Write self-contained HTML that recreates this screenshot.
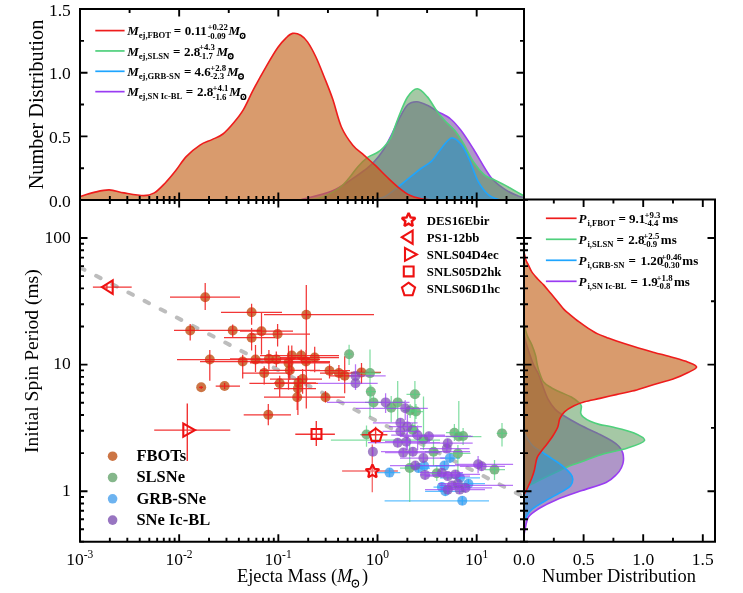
<!DOCTYPE html><html><head><meta charset="utf-8"><style>html,body{margin:0;padding:0;background:#fff;overflow:hidden}svg{display:block}#w{will-change:transform;width:743px;height:593px}</style></head><body><div id="w"><svg width="743" height="593" viewBox="0 0 743 593">
<defs><clipPath id="ctop"><rect x="80" y="9.1" width="444" height="190.9"/></clipPath><clipPath id="cmain"><rect x="80" y="200" width="444" height="341.8"/></clipPath><clipPath id="cright"><rect x="524" y="199.6" width="191" height="342.2"/></clipPath></defs>
<rect width="743" height="593" fill="#fff"/>
<g clip-path="url(#ctop)"><path d="M300.00,200.00 C305.43,198.45 324.00,194.15 332.60,190.70 C341.20,187.25 346.33,182.67 351.60,179.30 C356.87,175.93 360.62,173.23 364.20,170.50 C367.78,167.77 369.93,166.28 373.10,162.90 C376.27,159.52 380.05,155.05 383.20,150.20 C386.35,145.35 389.20,139.33 392.00,133.80 C394.80,128.27 397.33,121.88 400.00,117.00 C402.67,112.12 405.18,107.05 408.00,104.50 C410.82,101.95 413.67,101.57 416.90,101.70 C420.13,101.83 423.90,103.65 427.40,105.30 C430.90,106.95 434.03,109.32 437.90,111.60 C441.77,113.88 446.73,115.83 450.60,119.00 C454.47,122.17 457.25,125.52 461.10,130.60 C464.95,135.68 468.78,141.78 473.70,149.50 C478.62,157.22 485.32,170.22 490.60,176.90 C495.88,183.58 500.83,186.43 505.40,189.60 C509.97,192.77 514.90,194.58 518.00,195.90 C521.10,197.22 523.00,197.23 524.00,197.50 L524.00,200 L300.00,200 Z" fill="#845daa" fill-opacity="0.65" stroke="none"/><path d="M300.00,200.00 C305.43,198.45 324.00,194.15 332.60,190.70 C341.20,187.25 346.33,182.67 351.60,179.30 C356.87,175.93 360.62,173.23 364.20,170.50 C367.78,167.77 369.93,166.28 373.10,162.90 C376.27,159.52 380.05,155.05 383.20,150.20 C386.35,145.35 389.20,139.33 392.00,133.80 C394.80,128.27 397.33,121.88 400.00,117.00 C402.67,112.12 405.18,107.05 408.00,104.50 C410.82,101.95 413.67,101.57 416.90,101.70 C420.13,101.83 423.90,103.65 427.40,105.30 C430.90,106.95 434.03,109.32 437.90,111.60 C441.77,113.88 446.73,115.83 450.60,119.00 C454.47,122.17 457.25,125.52 461.10,130.60 C464.95,135.68 468.78,141.78 473.70,149.50 C478.62,157.22 485.32,170.22 490.60,176.90 C495.88,183.58 500.83,186.43 505.40,189.60 C509.97,192.77 514.90,194.58 518.00,195.90 C521.10,197.22 523.00,197.23 524.00,197.50" fill="none" stroke="#9a3cf2" stroke-width="1.6" stroke-linejoin="round"/><path d="M300.00,200.00 C303.33,199.67 313.50,199.97 320.00,198.00 C326.50,196.03 334.15,191.53 339.00,188.20 C343.85,184.87 345.95,181.58 349.10,178.00 C352.25,174.42 354.75,170.17 357.90,166.70 C361.05,163.23 364.83,159.52 368.00,157.20 C371.17,154.88 374.37,154.38 376.90,152.80 C379.43,151.22 380.88,150.23 383.20,147.70 C385.52,145.17 388.28,142.58 390.80,137.60 C393.32,132.62 395.53,124.52 398.30,117.80 C401.07,111.08 404.23,102.13 407.40,97.30 C410.57,92.47 413.97,88.87 417.30,88.80 C420.63,88.73 424.32,93.45 427.40,96.90 C430.48,100.35 433.00,105.65 435.80,109.50 C438.60,113.35 441.03,116.48 444.20,120.00 C447.37,123.52 451.63,126.73 454.80,130.60 C457.97,134.47 460.05,137.93 463.20,143.20 C466.35,148.47 470.18,156.93 473.70,162.20 C477.22,167.47 481.13,172.00 484.30,174.80 C487.47,177.60 489.18,177.23 492.70,179.00 C496.22,180.77 500.18,182.57 505.40,185.40 C510.62,188.23 520.90,194.23 524.00,196.00 L524.00,200 L300.00,200 Z" fill="#5b9b5b" fill-opacity="0.55" stroke="none"/><path d="M300.00,200.00 C303.33,199.67 313.50,199.97 320.00,198.00 C326.50,196.03 334.15,191.53 339.00,188.20 C343.85,184.87 345.95,181.58 349.10,178.00 C352.25,174.42 354.75,170.17 357.90,166.70 C361.05,163.23 364.83,159.52 368.00,157.20 C371.17,154.88 374.37,154.38 376.90,152.80 C379.43,151.22 380.88,150.23 383.20,147.70 C385.52,145.17 388.28,142.58 390.80,137.60 C393.32,132.62 395.53,124.52 398.30,117.80 C401.07,111.08 404.23,102.13 407.40,97.30 C410.57,92.47 413.97,88.87 417.30,88.80 C420.63,88.73 424.32,93.45 427.40,96.90 C430.48,100.35 433.00,105.65 435.80,109.50 C438.60,113.35 441.03,116.48 444.20,120.00 C447.37,123.52 451.63,126.73 454.80,130.60 C457.97,134.47 460.05,137.93 463.20,143.20 C466.35,148.47 470.18,156.93 473.70,162.20 C477.22,167.47 481.13,172.00 484.30,174.80 C487.47,177.60 489.18,177.23 492.70,179.00 C496.22,180.77 500.18,182.57 505.40,185.40 C510.62,188.23 520.90,194.23 524.00,196.00" fill="none" stroke="#4fd07c" stroke-width="1.6" stroke-linejoin="round"/><path d="M370.00,200.00 C372.33,199.50 379.00,199.42 384.00,197.00 C389.00,194.58 395.58,188.85 400.00,185.50 C404.42,182.15 407.00,179.73 410.50,176.90 C414.00,174.07 417.48,171.13 421.00,168.50 C424.52,165.87 428.08,164.62 431.60,161.10 C435.12,157.58 438.77,151.25 442.10,147.40 C445.43,143.55 448.43,138.52 451.60,138.00 C454.77,137.48 458.12,140.63 461.10,144.30 C464.08,147.97 466.68,153.87 469.50,160.00 C472.32,166.13 474.83,175.30 478.00,181.10 C481.17,186.90 484.83,191.65 488.50,194.80 C492.17,197.95 498.08,199.13 500.00,200.00 L500.00,200 L370.00,200 Z" fill="#3a91ca" fill-opacity="0.65" stroke="none"/><path d="M370.00,200.00 C372.33,199.50 379.00,199.42 384.00,197.00 C389.00,194.58 395.58,188.85 400.00,185.50 C404.42,182.15 407.00,179.73 410.50,176.90 C414.00,174.07 417.48,171.13 421.00,168.50 C424.52,165.87 428.08,164.62 431.60,161.10 C435.12,157.58 438.77,151.25 442.10,147.40 C445.43,143.55 448.43,138.52 451.60,138.00 C454.77,137.48 458.12,140.63 461.10,144.30 C464.08,147.97 466.68,153.87 469.50,160.00 C472.32,166.13 474.83,175.30 478.00,181.10 C481.17,186.90 484.83,191.65 488.50,194.80 C492.17,197.95 498.08,199.13 500.00,200.00" fill="none" stroke="#1ea5ff" stroke-width="1.6" stroke-linejoin="round"/><path d="M80.00,196.50 C82.33,195.82 89.13,193.50 94.00,192.40 C98.87,191.30 104.20,189.82 109.20,189.90 C114.20,189.98 118.25,191.95 124.00,192.90 C129.75,193.85 138.65,195.60 143.70,195.60 C148.75,195.60 150.75,194.97 154.30,192.90 C157.85,190.83 161.45,186.88 165.00,183.20 C168.55,179.52 172.07,175.23 175.60,170.80 C179.13,166.37 182.13,160.88 186.20,156.60 C190.27,152.32 195.70,147.93 200.00,145.10 C204.30,142.27 208.18,141.45 212.00,139.60 C215.82,137.75 219.25,136.85 222.90,134.00 C226.55,131.15 230.48,126.57 233.90,122.50 C237.32,118.43 240.13,115.12 243.40,109.60 C246.67,104.08 249.57,96.82 253.50,89.40 C257.43,81.98 262.95,72.08 267.00,65.10 C271.05,58.12 274.65,52.00 277.80,47.50 C280.95,43.00 283.43,40.45 285.90,38.10 C288.37,35.75 290.13,33.88 292.60,33.40 C295.07,32.92 298.22,33.78 300.70,35.20 C303.18,36.62 304.97,38.27 307.50,41.90 C310.03,45.53 313.10,51.12 315.90,57.00 C318.70,62.88 321.50,70.18 324.30,77.20 C327.10,84.22 329.85,90.80 332.70,99.10 C335.55,107.40 338.05,119.32 341.40,127.00 C344.75,134.68 349.00,140.47 352.80,145.20 C356.60,149.93 360.40,151.98 364.20,155.40 C368.00,158.82 371.80,162.10 375.60,165.70 C379.40,169.30 383.22,173.40 387.00,177.00 C390.78,180.60 394.52,184.25 398.30,187.30 C402.08,190.35 405.92,193.40 409.70,195.30 C413.48,197.20 417.28,197.92 421.00,198.70 C424.72,199.48 430.17,199.78 432.00,200.00 L432.00,200 L80.00,200 Z" fill="#c4651f" fill-opacity="0.65" stroke="none"/><path d="M80.00,196.50 C82.33,195.82 89.13,193.50 94.00,192.40 C98.87,191.30 104.20,189.82 109.20,189.90 C114.20,189.98 118.25,191.95 124.00,192.90 C129.75,193.85 138.65,195.60 143.70,195.60 C148.75,195.60 150.75,194.97 154.30,192.90 C157.85,190.83 161.45,186.88 165.00,183.20 C168.55,179.52 172.07,175.23 175.60,170.80 C179.13,166.37 182.13,160.88 186.20,156.60 C190.27,152.32 195.70,147.93 200.00,145.10 C204.30,142.27 208.18,141.45 212.00,139.60 C215.82,137.75 219.25,136.85 222.90,134.00 C226.55,131.15 230.48,126.57 233.90,122.50 C237.32,118.43 240.13,115.12 243.40,109.60 C246.67,104.08 249.57,96.82 253.50,89.40 C257.43,81.98 262.95,72.08 267.00,65.10 C271.05,58.12 274.65,52.00 277.80,47.50 C280.95,43.00 283.43,40.45 285.90,38.10 C288.37,35.75 290.13,33.88 292.60,33.40 C295.07,32.92 298.22,33.78 300.70,35.20 C303.18,36.62 304.97,38.27 307.50,41.90 C310.03,45.53 313.10,51.12 315.90,57.00 C318.70,62.88 321.50,70.18 324.30,77.20 C327.10,84.22 329.85,90.80 332.70,99.10 C335.55,107.40 338.05,119.32 341.40,127.00 C344.75,134.68 349.00,140.47 352.80,145.20 C356.60,149.93 360.40,151.98 364.20,155.40 C368.00,158.82 371.80,162.10 375.60,165.70 C379.40,169.30 383.22,173.40 387.00,177.00 C390.78,180.60 394.52,184.25 398.30,187.30 C402.08,190.35 405.92,193.40 409.70,195.30 C413.48,197.20 417.28,197.92 421.00,198.70 C424.72,199.48 430.17,199.78 432.00,200.00" fill="none" stroke="#ee1c1c" stroke-width="1.6" stroke-linejoin="round"/></g>
<g clip-path="url(#cright)"><path d="M524.00,334.00 C524.20,335.00 524.28,336.72 525.20,340.00 C526.12,343.28 528.03,349.38 529.50,353.70 C530.97,358.02 532.50,362.52 534.00,365.90 C535.50,369.28 537.12,370.85 538.50,374.00 C539.88,377.15 540.67,380.52 542.30,384.80 C543.93,389.08 546.18,395.65 548.30,399.70 C550.42,403.75 552.75,406.63 555.00,409.10 C557.25,411.57 557.63,411.85 561.80,414.50 C565.97,417.15 573.63,421.67 580.00,425.00 C586.37,428.33 594.67,431.83 600.00,434.50 C605.33,437.17 608.83,439.00 612.00,441.00 C615.17,443.00 617.20,444.50 619.00,446.50 C620.80,448.50 622.07,450.58 622.80,453.00 C623.53,455.42 623.62,458.58 623.40,461.00 C623.18,463.42 622.57,465.33 621.50,467.50 C620.43,469.67 619.57,471.52 617.00,474.00 C614.43,476.48 612.22,479.55 606.10,482.40 C599.98,485.25 588.55,488.22 580.30,491.10 C572.05,493.98 563.42,496.83 556.60,499.70 C549.78,502.57 544.07,505.43 539.40,508.30 C534.73,511.17 530.93,513.67 528.60,516.90 C526.27,520.13 526.17,524.68 525.40,527.70 C524.63,530.72 524.23,533.78 524.00,535.00 L524,535.00 L524,334.00 Z" fill="#845daa" fill-opacity="0.65" stroke="none"/><path d="M524.00,334.00 C524.20,335.00 524.28,336.72 525.20,340.00 C526.12,343.28 528.03,349.38 529.50,353.70 C530.97,358.02 532.50,362.52 534.00,365.90 C535.50,369.28 537.12,370.85 538.50,374.00 C539.88,377.15 540.67,380.52 542.30,384.80 C543.93,389.08 546.18,395.65 548.30,399.70 C550.42,403.75 552.75,406.63 555.00,409.10 C557.25,411.57 557.63,411.85 561.80,414.50 C565.97,417.15 573.63,421.67 580.00,425.00 C586.37,428.33 594.67,431.83 600.00,434.50 C605.33,437.17 608.83,439.00 612.00,441.00 C615.17,443.00 617.20,444.50 619.00,446.50 C620.80,448.50 622.07,450.58 622.80,453.00 C623.53,455.42 623.62,458.58 623.40,461.00 C623.18,463.42 622.57,465.33 621.50,467.50 C620.43,469.67 619.57,471.52 617.00,474.00 C614.43,476.48 612.22,479.55 606.10,482.40 C599.98,485.25 588.55,488.22 580.30,491.10 C572.05,493.98 563.42,496.83 556.60,499.70 C549.78,502.57 544.07,505.43 539.40,508.30 C534.73,511.17 530.93,513.67 528.60,516.90 C526.27,520.13 526.17,524.68 525.40,527.70 C524.63,530.72 524.23,533.78 524.00,535.00" fill="none" stroke="#9a3cf2" stroke-width="1.6" stroke-linejoin="round"/><path d="M524.00,324.00 C524.53,325.92 525.92,332.07 527.20,335.50 C528.48,338.93 530.32,341.30 531.70,344.60 C533.08,347.90 534.58,352.00 535.50,355.30 C536.42,358.60 536.57,361.62 537.20,364.40 C537.83,367.18 538.23,369.05 539.30,372.00 C540.37,374.95 541.65,379.52 543.60,382.10 C545.55,384.68 548.18,385.80 551.00,387.50 C553.82,389.20 557.12,390.72 560.50,392.30 C563.88,393.88 568.15,395.22 571.30,397.00 C574.45,398.78 577.72,401.43 579.40,403.00 C581.08,404.57 581.18,404.70 581.40,406.40 C581.62,408.10 580.37,411.40 580.70,413.20 C581.03,415.00 581.82,415.85 583.40,417.20 C584.98,418.55 587.43,420.07 590.20,421.30 C592.97,422.53 596.27,423.65 600.00,424.60 C603.73,425.55 606.93,425.60 612.60,427.00 C618.27,428.40 628.68,430.75 634.00,433.00 C639.32,435.25 645.55,438.00 644.50,440.50 C643.45,443.00 634.82,445.67 627.70,448.00 C620.58,450.33 610.07,452.00 601.80,454.50 C593.53,457.00 584.02,460.85 578.10,463.00 C572.18,465.15 571.32,465.23 566.30,467.40 C561.28,469.57 553.92,473.13 548.00,476.00 C542.08,478.87 534.80,482.43 530.80,484.60 C526.80,486.77 525.13,488.27 524.00,489.00 L524,489.00 L524,324.00 Z" fill="#5b9b5b" fill-opacity="0.55" stroke="none"/><path d="M524.00,324.00 C524.53,325.92 525.92,332.07 527.20,335.50 C528.48,338.93 530.32,341.30 531.70,344.60 C533.08,347.90 534.58,352.00 535.50,355.30 C536.42,358.60 536.57,361.62 537.20,364.40 C537.83,367.18 538.23,369.05 539.30,372.00 C540.37,374.95 541.65,379.52 543.60,382.10 C545.55,384.68 548.18,385.80 551.00,387.50 C553.82,389.20 557.12,390.72 560.50,392.30 C563.88,393.88 568.15,395.22 571.30,397.00 C574.45,398.78 577.72,401.43 579.40,403.00 C581.08,404.57 581.18,404.70 581.40,406.40 C581.62,408.10 580.37,411.40 580.70,413.20 C581.03,415.00 581.82,415.85 583.40,417.20 C584.98,418.55 587.43,420.07 590.20,421.30 C592.97,422.53 596.27,423.65 600.00,424.60 C603.73,425.55 606.93,425.60 612.60,427.00 C618.27,428.40 628.68,430.75 634.00,433.00 C639.32,435.25 645.55,438.00 644.50,440.50 C643.45,443.00 634.82,445.67 627.70,448.00 C620.58,450.33 610.07,452.00 601.80,454.50 C593.53,457.00 584.02,460.85 578.10,463.00 C572.18,465.15 571.32,465.23 566.30,467.40 C561.28,469.57 553.92,473.13 548.00,476.00 C542.08,478.87 534.80,482.43 530.80,484.60 C526.80,486.77 525.13,488.27 524.00,489.00" fill="none" stroke="#4fd07c" stroke-width="1.6" stroke-linejoin="round"/><path d="M524.00,432.00 C524.50,433.00 525.50,435.67 527.00,438.00 C528.50,440.33 530.72,443.80 533.00,446.00 C535.28,448.20 537.48,449.07 540.70,451.20 C543.92,453.33 548.58,456.28 552.30,458.80 C556.02,461.32 559.95,463.80 563.00,466.30 C566.05,468.80 568.97,471.65 570.60,473.80 C572.23,475.95 572.80,477.22 572.80,479.20 C572.80,481.18 572.23,483.73 570.60,485.70 C568.97,487.67 567.48,488.32 563.00,491.00 C558.52,493.68 549.07,498.57 543.70,501.80 C538.33,505.03 534.08,507.20 530.80,510.40 C527.52,513.60 525.13,519.23 524.00,521.00 L524,521.00 L524,432.00 Z" fill="#3a91ca" fill-opacity="0.65" stroke="none"/><path d="M524.00,432.00 C524.50,433.00 525.50,435.67 527.00,438.00 C528.50,440.33 530.72,443.80 533.00,446.00 C535.28,448.20 537.48,449.07 540.70,451.20 C543.92,453.33 548.58,456.28 552.30,458.80 C556.02,461.32 559.95,463.80 563.00,466.30 C566.05,468.80 568.97,471.65 570.60,473.80 C572.23,475.95 572.80,477.22 572.80,479.20 C572.80,481.18 572.23,483.73 570.60,485.70 C568.97,487.67 567.48,488.32 563.00,491.00 C558.52,493.68 549.07,498.57 543.70,501.80 C538.33,505.03 534.08,507.20 530.80,510.40 C527.52,513.60 525.13,519.23 524.00,521.00" fill="none" stroke="#1ea5ff" stroke-width="1.6" stroke-linejoin="round"/><path d="M524.00,251.80 C524.32,253.18 525.18,257.93 525.90,260.10 C526.62,262.27 527.32,262.83 528.30,264.80 C529.28,266.77 530.23,269.53 531.80,271.90 C533.37,274.27 535.73,276.83 537.70,279.00 C539.67,281.17 541.63,282.75 543.60,284.90 C545.57,287.05 547.53,289.55 549.50,291.90 C551.47,294.25 553.03,296.13 555.40,299.00 C557.77,301.87 561.37,306.58 563.70,309.10 C566.03,311.62 566.88,312.00 569.40,314.10 C571.92,316.20 575.65,319.33 578.80,321.70 C581.95,324.07 585.15,326.27 588.30,328.30 C591.45,330.33 594.57,332.33 597.70,333.90 C600.83,335.47 603.97,336.50 607.10,337.70 C610.23,338.90 611.78,339.53 616.50,341.10 C621.22,342.67 629.12,345.22 635.40,347.10 C641.68,348.98 647.92,350.67 654.20,352.40 C660.48,354.13 667.45,355.87 673.10,357.50 C678.75,359.13 684.18,360.63 688.10,362.20 C692.02,363.77 696.60,365.18 696.60,366.90 C696.60,368.62 692.02,370.47 688.10,372.50 C684.18,374.53 677.02,377.62 673.10,379.10 C669.18,380.58 668.70,380.22 664.60,381.40 C660.50,382.58 653.88,384.58 648.50,386.20 C643.12,387.82 637.68,389.70 632.30,391.10 C626.92,392.50 621.58,393.38 616.20,394.60 C610.82,395.82 605.25,397.22 600.00,398.40 C594.75,399.58 589.03,400.48 584.70,401.70 C580.37,402.92 577.37,404.02 574.00,405.70 C570.63,407.38 566.87,409.65 564.50,411.80 C562.13,413.95 560.92,416.07 559.80,418.60 C558.68,421.13 558.97,424.10 557.80,427.00 C556.63,429.90 554.60,433.17 552.80,436.00 C551.00,438.83 548.88,441.50 547.00,444.00 C545.12,446.50 543.17,448.68 541.50,451.00 C539.83,453.32 538.18,454.73 537.00,457.90 C535.82,461.07 535.27,466.65 534.40,470.00 C533.53,473.35 532.95,475.00 531.80,478.00 C530.65,481.00 528.80,485.17 527.50,488.00 C526.20,490.83 524.58,493.83 524.00,495.00 L524,495.00 L524,251.80 Z" fill="#c4651f" fill-opacity="0.65" stroke="none"/><path d="M524.00,251.80 C524.32,253.18 525.18,257.93 525.90,260.10 C526.62,262.27 527.32,262.83 528.30,264.80 C529.28,266.77 530.23,269.53 531.80,271.90 C533.37,274.27 535.73,276.83 537.70,279.00 C539.67,281.17 541.63,282.75 543.60,284.90 C545.57,287.05 547.53,289.55 549.50,291.90 C551.47,294.25 553.03,296.13 555.40,299.00 C557.77,301.87 561.37,306.58 563.70,309.10 C566.03,311.62 566.88,312.00 569.40,314.10 C571.92,316.20 575.65,319.33 578.80,321.70 C581.95,324.07 585.15,326.27 588.30,328.30 C591.45,330.33 594.57,332.33 597.70,333.90 C600.83,335.47 603.97,336.50 607.10,337.70 C610.23,338.90 611.78,339.53 616.50,341.10 C621.22,342.67 629.12,345.22 635.40,347.10 C641.68,348.98 647.92,350.67 654.20,352.40 C660.48,354.13 667.45,355.87 673.10,357.50 C678.75,359.13 684.18,360.63 688.10,362.20 C692.02,363.77 696.60,365.18 696.60,366.90 C696.60,368.62 692.02,370.47 688.10,372.50 C684.18,374.53 677.02,377.62 673.10,379.10 C669.18,380.58 668.70,380.22 664.60,381.40 C660.50,382.58 653.88,384.58 648.50,386.20 C643.12,387.82 637.68,389.70 632.30,391.10 C626.92,392.50 621.58,393.38 616.20,394.60 C610.82,395.82 605.25,397.22 600.00,398.40 C594.75,399.58 589.03,400.48 584.70,401.70 C580.37,402.92 577.37,404.02 574.00,405.70 C570.63,407.38 566.87,409.65 564.50,411.80 C562.13,413.95 560.92,416.07 559.80,418.60 C558.68,421.13 558.97,424.10 557.80,427.00 C556.63,429.90 554.60,433.17 552.80,436.00 C551.00,438.83 548.88,441.50 547.00,444.00 C545.12,446.50 543.17,448.68 541.50,451.00 C539.83,453.32 538.18,454.73 537.00,457.90 C535.82,461.07 535.27,466.65 534.40,470.00 C533.53,473.35 532.95,475.00 531.80,478.00 C530.65,481.00 528.80,485.17 527.50,488.00 C526.20,490.83 524.58,493.83 524.00,495.00" fill="none" stroke="#ee1c1c" stroke-width="1.6" stroke-linejoin="round"/></g>
<g clip-path="url(#cmain)"><path d="M80,267.5 L524,497" stroke="#bdbdbd" stroke-width="4" stroke-linecap="round" stroke-dasharray="5 13.17" stroke-dashoffset="0" fill="none"/><path d="M92.9,287.1H131.7M106.9,285.0V289.0" stroke="#ee1111" stroke-opacity="0.85" stroke-width="1.4" fill="none"/><path d="M154.2,430.1H230.3M187.3,403.5V461.0" stroke="#ee1111" stroke-opacity="0.85" stroke-width="1.4" fill="none"/><path d="M295.3,434.2H334.9M316.3,421.0V446.0" stroke="#ee1111" stroke-opacity="0.85" stroke-width="1.4" fill="none"/><path d="M342.1,471.0H397.9M372.3,444.4V492.3" stroke="#ee1111" stroke-opacity="0.60" stroke-width="1.4" fill="none"/><circle cx="205.2" cy="297.2" r="5" fill="#bf5317" fill-opacity="0.80"/><circle cx="251.6" cy="312.3" r="5" fill="#bf5317" fill-opacity="0.80"/><circle cx="190.2" cy="330.4" r="5" fill="#bf5317" fill-opacity="0.80"/><circle cx="232.7" cy="330.4" r="5" fill="#bf5317" fill-opacity="0.80"/><circle cx="251.6" cy="337.7" r="5" fill="#bf5317" fill-opacity="0.80"/><circle cx="261.5" cy="331.2" r="5" fill="#bf5317" fill-opacity="0.80"/><circle cx="277.6" cy="334.0" r="5" fill="#bf5317" fill-opacity="0.80"/><circle cx="306.3" cy="314.7" r="5" fill="#bf5317" fill-opacity="0.80"/><circle cx="209.8" cy="359.5" r="5" fill="#bf5317" fill-opacity="0.80"/><circle cx="242.7" cy="361.5" r="5" fill="#bf5317" fill-opacity="0.80"/><circle cx="255.5" cy="359.5" r="5" fill="#bf5317" fill-opacity="0.80"/><circle cx="268.9" cy="358.8" r="5" fill="#bf5317" fill-opacity="0.80"/><circle cx="276.3" cy="359.5" r="5" fill="#bf5317" fill-opacity="0.80"/><circle cx="291.8" cy="355.5" r="5" fill="#bf5317" fill-opacity="0.80"/><circle cx="301.2" cy="355.5" r="5" fill="#bf5317" fill-opacity="0.80"/><circle cx="314.7" cy="357.5" r="5" fill="#bf5317" fill-opacity="0.80"/><circle cx="288.5" cy="362.9" r="5" fill="#bf5317" fill-opacity="0.80"/><circle cx="306.0" cy="361.5" r="5" fill="#bf5317" fill-opacity="0.80"/><circle cx="289.8" cy="370.3" r="5" fill="#bf5317" fill-opacity="0.80"/><circle cx="264.2" cy="373.0" r="5" fill="#bf5317" fill-opacity="0.80"/><circle cx="329.5" cy="370.7" r="5" fill="#bf5317" fill-opacity="0.80"/><circle cx="338.9" cy="373.0" r="5" fill="#bf5317" fill-opacity="0.80"/><circle cx="279.7" cy="383.3" r="5" fill="#bf5317" fill-opacity="0.80"/><circle cx="302.6" cy="379.0" r="5" fill="#bf5317" fill-opacity="0.80"/><circle cx="298.5" cy="382.8" r="5" fill="#bf5317" fill-opacity="0.80"/><circle cx="297.9" cy="388.5" r="5" fill="#bf5317" fill-opacity="0.80"/><circle cx="297.2" cy="397.2" r="5" fill="#bf5317" fill-opacity="0.80"/><circle cx="325.5" cy="397.2" r="5" fill="#bf5317" fill-opacity="0.80"/><circle cx="268.3" cy="414.8" r="5" fill="#bf5317" fill-opacity="0.80"/><circle cx="201.2" cy="387.3" r="5" fill="#bf5317" fill-opacity="0.80"/><circle cx="224.6" cy="386.0" r="5" fill="#bf5317" fill-opacity="0.80"/><circle cx="344.7" cy="375.8" r="5" fill="#bf5317" fill-opacity="0.80"/><circle cx="361.5" cy="372.4" r="5" fill="#bf5317" fill-opacity="0.80"/><path d="M170.0,297.2H240.0M205.2,283.0V310.0M221.0,312.3H282.0M251.6,303.7V324.7M174.0,330.4H250.0M190.2,324.0V340.6M222.0,330.4H262.0M232.7,324.4V338.2M224.0,337.7H275.0M251.6,328.0V350.6M240.0,331.2H293.0M261.5,312.6V354.6M250.0,334.0H310.0M277.6,324.0V346.5M264.0,314.7H374.0M306.3,285.0V408.6M177.0,359.5H260.0M209.8,350.0V380.8M200.0,361.5H290.0M242.7,354.8V378.4M215.0,359.5H300.0M255.5,345.0V372.0M230.0,358.8H310.0M268.9,350.0V369.6M240.0,359.5H320.0M276.3,351.4V367.0M260.0,355.5H330.0M291.8,345.4V373.6M270.0,355.5H339.0M301.2,349.4V362.9M280.0,357.5H339.0M314.7,346.7V372.3M250.0,362.9H330.0M288.5,345.4V389.8M270.0,361.5H330.0M306.0,350.0V372.0M260.0,370.3H320.0M289.8,360.0V380.0M242.0,373.0H288.0M264.2,366.2V384.4M310.0,370.7H350.0M329.5,364.2V378.4M320.0,373.0H360.0M338.9,365.0V381.0M249.4,383.3H318.0M279.7,375.7V397.2M270.0,379.0H322.0M302.6,369.0V393.8M274.0,382.8H316.0M298.5,376.0V400.0M274.0,388.5H316.0M297.9,376.3V415.0M264.0,397.2H334.0M297.2,385.0V410.0M310.0,397.2H345.0M325.5,391.1V402.6M243.7,414.8H291.0M268.3,404.0V425.3M199.0,387.3H203.0M201.2,386.0V389.0M215.7,386.0H240.0M224.6,383.0V389.0M330.0,375.8H360.0M344.7,356.2V393.3M350.8,372.4H381.0M361.5,363.0V383.8" stroke="#f01414" stroke-opacity="0.85" stroke-width="1.25" fill="none"/><circle cx="389.5" cy="472.6" r="5" fill="#48a0ec" fill-opacity="0.80"/><circle cx="449.9" cy="458.0" r="5" fill="#48a0ec" fill-opacity="0.80"/><circle cx="444.4" cy="465.6" r="5" fill="#48a0ec" fill-opacity="0.80"/><circle cx="424.2" cy="466.0" r="5" fill="#48a0ec" fill-opacity="0.80"/><circle cx="460.0" cy="477.8" r="5" fill="#48a0ec" fill-opacity="0.80"/><circle cx="468.4" cy="483.7" r="5" fill="#48a0ec" fill-opacity="0.80"/><circle cx="441.9" cy="487.1" r="5" fill="#48a0ec" fill-opacity="0.80"/><circle cx="445.3" cy="491.3" r="5" fill="#48a0ec" fill-opacity="0.80"/><circle cx="462.3" cy="500.8" r="5" fill="#48a0ec" fill-opacity="0.80"/><circle cx="418.5" cy="468.1" r="5" fill="#48a0ec" fill-opacity="0.80"/><path d="M376.8,472.6H400.3M389.5,468.1V477.1M440.2,458.0H460.0M449.9,453.5V462.5M435.0,465.6H455.0M444.4,461.1V470.1M405.0,466.0H445.0M424.2,461.5V470.5M440.0,477.8H480.0M460.0,473.3V482.3M455.0,483.7H485.0M468.4,479.2V488.2M433.5,487.1H470.0M441.9,482.6V491.6M425.1,491.3H465.0M445.3,486.8V495.8M384.6,500.8H489.0M462.3,496.3V505.0M405.0,468.1H430.0M418.5,463.6V472.6" stroke="#1ea5ff" stroke-opacity="0.70" stroke-width="1.25" fill="none"/><circle cx="349.1" cy="354.2" r="5" fill="#66a56e" fill-opacity="0.80"/><circle cx="370.0" cy="373.1" r="5" fill="#66a56e" fill-opacity="0.80"/><circle cx="370.8" cy="391.6" r="5" fill="#66a56e" fill-opacity="0.80"/><circle cx="373.5" cy="402.4" r="5" fill="#66a56e" fill-opacity="0.80"/><circle cx="391.2" cy="407.8" r="5" fill="#66a56e" fill-opacity="0.80"/><circle cx="397.7" cy="402.4" r="5" fill="#66a56e" fill-opacity="0.80"/><circle cx="410.1" cy="410.5" r="5" fill="#66a56e" fill-opacity="0.80"/><circle cx="414.9" cy="394.3" r="5" fill="#66a56e" fill-opacity="0.80"/><circle cx="416.0" cy="411.5" r="5" fill="#66a56e" fill-opacity="0.80"/><circle cx="412.7" cy="429.8" r="5" fill="#66a56e" fill-opacity="0.80"/><circle cx="423.5" cy="439.5" r="5" fill="#66a56e" fill-opacity="0.80"/><circle cx="366.5" cy="434.5" r="5" fill="#66a56e" fill-opacity="0.80"/><circle cx="454.4" cy="432.7" r="5" fill="#66a56e" fill-opacity="0.80"/><circle cx="458.8" cy="436.5" r="5" fill="#66a56e" fill-opacity="0.80"/><circle cx="463.1" cy="436.0" r="5" fill="#66a56e" fill-opacity="0.80"/><circle cx="502.0" cy="433.4" r="5" fill="#66a56e" fill-opacity="0.80"/><circle cx="494.5" cy="469.6" r="5" fill="#66a56e" fill-opacity="0.80"/><circle cx="409.7" cy="468.0" r="5" fill="#66a56e" fill-opacity="0.80"/><circle cx="433.5" cy="451.7" r="5" fill="#66a56e" fill-opacity="0.80"/><circle cx="457.9" cy="453.4" r="5" fill="#66a56e" fill-opacity="0.80"/><circle cx="436.8" cy="473.2" r="5" fill="#66a56e" fill-opacity="0.80"/><path d="M346.0,354.2H352.0M349.1,344.8V365.0M355.0,373.1H380.4M370.0,349.5V416.9M366.0,391.6H376.0M370.8,385.0V398.0M365.0,402.4H382.0M373.5,396.0V409.0M384.0,407.8H398.0M391.2,395.9V422.3M390.0,402.4H405.0M397.7,381.0V421.2M403.0,410.5H417.0M410.1,404.0V418.0M406.5,394.3H420.5M414.9,381.0V429.8M409.0,411.5H423.0M416.0,404.0V419.0M406.0,429.8H419.0M412.7,423.0V437.0M417.0,439.5H430.0M423.5,396.5V450.0M360.0,434.5H375.0M366.5,425.5V446.8M446.0,432.7H462.0M454.4,424.1V441.0M446.0,436.5H481.4M458.8,401.0V440.0M455.0,436.0H471.0M463.1,427.9V445.0M496.6,433.4H507.4M502.0,423.0V446.4M485.0,469.6H505.0M494.5,460.0V480.0M400.0,468.0H420.0M409.7,440.0V501.9M425.0,451.7H442.0M433.5,440.0V466.0M450.0,453.4H470.5M457.9,445.0V473.6M430.0,473.2H444.0M436.8,466.0V481.0M330.9,440H440" stroke="#4fd07c" stroke-opacity="0.70" stroke-width="1.25" fill="none"/><circle cx="355.5" cy="375.9" r="5" fill="#7e52b2" fill-opacity="0.72"/><circle cx="355.5" cy="383.3" r="5" fill="#7e52b2" fill-opacity="0.72"/><circle cx="385.6" cy="402.4" r="5" fill="#7e52b2" fill-opacity="0.72"/><circle cx="405.2" cy="408.3" r="5" fill="#7e52b2" fill-opacity="0.72"/><circle cx="400.4" cy="422.8" r="5" fill="#7e52b2" fill-opacity="0.72"/><circle cx="400.4" cy="431.4" r="5" fill="#7e52b2" fill-opacity="0.72"/><circle cx="407.4" cy="426.6" r="5" fill="#7e52b2" fill-opacity="0.72"/><circle cx="417.6" cy="435.2" r="5" fill="#7e52b2" fill-opacity="0.72"/><circle cx="428.9" cy="436.3" r="5" fill="#7e52b2" fill-opacity="0.72"/><circle cx="397.7" cy="442.7" r="5" fill="#7e52b2" fill-opacity="0.72"/><circle cx="406.3" cy="441.7" r="5" fill="#7e52b2" fill-opacity="0.72"/><circle cx="372.9" cy="451.7" r="5" fill="#7e52b2" fill-opacity="0.72"/><circle cx="447.7" cy="443.2" r="5" fill="#7e52b2" fill-opacity="0.72"/><circle cx="446.8" cy="448.6" r="5" fill="#7e52b2" fill-opacity="0.72"/><circle cx="403.2" cy="452.6" r="5" fill="#7e52b2" fill-opacity="0.72"/><circle cx="412.9" cy="451.8" r="5" fill="#7e52b2" fill-opacity="0.72"/><circle cx="423.4" cy="458.0" r="5" fill="#7e52b2" fill-opacity="0.72"/><circle cx="478.1" cy="464.3" r="5" fill="#7e52b2" fill-opacity="0.72"/><circle cx="481.6" cy="466.3" r="5" fill="#7e52b2" fill-opacity="0.72"/><circle cx="425.1" cy="474.9" r="5" fill="#7e52b2" fill-opacity="0.72"/><circle cx="441.9" cy="472.7" r="5" fill="#7e52b2" fill-opacity="0.72"/><circle cx="447.8" cy="476.1" r="5" fill="#7e52b2" fill-opacity="0.72"/><circle cx="455.4" cy="474.4" r="5" fill="#7e52b2" fill-opacity="0.72"/><circle cx="465.5" cy="487.9" r="5" fill="#7e52b2" fill-opacity="0.72"/><circle cx="457.9" cy="483.7" r="5" fill="#7e52b2" fill-opacity="0.72"/><circle cx="452.0" cy="485.4" r="5" fill="#7e52b2" fill-opacity="0.72"/><circle cx="447.8" cy="489.6" r="5" fill="#7e52b2" fill-opacity="0.72"/><circle cx="459.6" cy="489.6" r="5" fill="#7e52b2" fill-opacity="0.72"/><circle cx="415.3" cy="465.5" r="5" fill="#7e52b2" fill-opacity="0.72"/><path d="M349.0,375.9H385.7M355.5,364.2V389.9M318.0,383.3H377.7M355.5,378.8V387.8M327.0,402.4H409.5M385.6,393.2V413.1M355.8,408.3H427.8M405.2,400.2V420.1M372.9,422.8H417.6M400.4,418.3V427.3M382.6,431.4H420.3M400.4,426.9V435.9M389.0,426.6H421.9M407.4,414.8V450.0M391.2,435.2H445.0M417.6,425.5V450.0M400.0,436.3H472.7M428.9,431.8V440.8M368.0,442.7H440.0M397.7,438.2V447.2M385.0,441.7H430.0M406.3,432.5V450.0M381.0,451.7H470.0M372.9,447.2V456.0M410.0,443.2H472.7M447.7,438.7V447.7M420.0,448.6H469.5M446.8,444.1V453.1M385.0,452.6H440.0M403.2,448.1V457.1M400.0,451.8H440.0M412.9,447.3V456.3M400.0,458.0H445.0M423.4,453.5V462.5M455.0,464.3H513.1M478.1,455.9V473.2M460.0,466.3H505.0M481.6,461.8V470.8M420.0,474.9H463.8M425.1,470.4V479.4M420.0,472.7H463.0M441.9,468.2V477.2M425.0,476.1H470.0M447.8,471.6V480.6M435.0,474.4H480.0M455.4,469.9V478.9M440.0,487.9H492.1M465.5,483.4V492.4M438.5,483.7H460.4M457.9,479.2V488.2M439.4,485.4H513.0M452.0,480.9V489.9M425.0,489.6H470.0M447.8,485.1V494.1M440.0,489.6H485.0M459.6,485.1V494.1M390.0,465.5H480.0M415.3,461.0V470.0" stroke="#9a3cf2" stroke-opacity="0.70" stroke-width="1.25" fill="none"/><path d="M361.6,434.7H387.4M375.6,426.7V443.6" stroke="#ee1111" stroke-opacity="0.85" stroke-width="1.4" fill="none"/><path d="M101.90,287.10 L112.70,280.30 L112.70,293.90 Z" fill="none" stroke="#ee1111" stroke-width="2.1" stroke-linejoin="miter"/><path d="M195.10,430.10 L183.30,423.60 L183.30,436.60 Z" fill="none" stroke="#ee1111" stroke-width="2.1"/><path d="M311.55,429.00 h9.90 v9.90 h-9.90 Z" fill="none" stroke="#ee1111" stroke-width="2.1"/><path d="M375.75,428.50 L382.31,433.27 L379.81,440.98 L371.69,440.98 L369.19,433.27 Z" fill="none" stroke="#ee1111" stroke-width="2.1" stroke-linejoin="miter"/><path d="M372.45,464.40 L374.45,468.75 L379.20,469.31 L375.68,472.55 L376.62,477.24 L372.45,474.90 L368.28,477.24 L369.22,472.55 L365.70,469.31 L370.45,468.75 Z" fill="none" stroke="#ee1111" stroke-width="2.2" stroke-linejoin="miter" stroke-miterlimit="1.6"/></g>
<path d="M80.00,200.00L87.50,200.00M524.00,200.00L516.50,200.00M80.00,136.35L87.50,136.35M524.00,136.35L516.50,136.35M80.00,72.70L87.50,72.70M524.00,72.70L516.50,72.70M80.00,9.05L87.50,9.05M524.00,9.05L516.50,9.05M80.00,168.18L84.00,168.18M524.00,168.18L520.00,168.18M80.00,104.53L84.00,104.53M524.00,104.53L520.00,104.53M80.00,40.88L84.00,40.88M524.00,40.88L520.00,40.88M80.00,9.10L80.00,16.60M179.17,9.10L179.17,16.60M278.34,9.10L278.34,16.60M377.51,9.10L377.51,16.60M476.68,9.10L476.68,16.60M129.59,9.10L129.59,13.10M228.75,9.10L228.75,13.10M327.93,9.10L327.93,13.10M427.10,9.10L427.10,13.10M80.00,192.50L80.00,207.50M179.17,192.50L179.17,207.50M278.34,192.50L278.34,207.50M377.51,192.50L377.51,207.50M476.68,192.50L476.68,207.50M109.85,196.00L109.85,204.00M127.32,196.00L127.32,204.00M139.71,196.00L139.71,204.00M149.32,196.00L149.32,204.00M157.17,196.00L157.17,204.00M163.81,196.00L163.81,204.00M169.56,196.00L169.56,204.00M174.63,196.00L174.63,204.00M209.02,196.00L209.02,204.00M226.49,196.00L226.49,204.00M238.88,196.00L238.88,204.00M248.49,196.00L248.49,204.00M256.34,196.00L256.34,204.00M262.98,196.00L262.98,204.00M268.73,196.00L268.73,204.00M273.80,196.00L273.80,204.00M308.19,196.00L308.19,204.00M325.66,196.00L325.66,204.00M338.05,196.00L338.05,204.00M347.66,196.00L347.66,204.00M355.51,196.00L355.51,204.00M362.15,196.00L362.15,204.00M367.90,196.00L367.90,204.00M372.97,196.00L372.97,204.00M407.36,196.00L407.36,204.00M424.83,196.00L424.83,204.00M437.22,196.00L437.22,204.00M446.83,196.00L446.83,204.00M454.68,196.00L454.68,204.00M461.32,196.00L461.32,204.00M467.07,196.00L467.07,204.00M472.14,196.00L472.14,204.00M506.53,196.00L506.53,204.00M524.00,196.00L524.00,204.00M80.00,541.80L80.00,534.30M179.17,541.80L179.17,534.30M278.34,541.80L278.34,534.30M377.51,541.80L377.51,534.30M476.68,541.80L476.68,534.30M109.85,541.80L109.85,537.80M127.32,541.80L127.32,537.80M139.71,541.80L139.71,537.80M149.32,541.80L149.32,537.80M157.17,541.80L157.17,537.80M163.81,541.80L163.81,537.80M169.56,541.80L169.56,537.80M174.63,541.80L174.63,537.80M209.02,541.80L209.02,537.80M226.49,541.80L226.49,537.80M238.88,541.80L238.88,537.80M248.49,541.80L248.49,537.80M256.34,541.80L256.34,537.80M262.98,541.80L262.98,537.80M268.73,541.80L268.73,537.80M273.80,541.80L273.80,537.80M308.19,541.80L308.19,537.80M325.66,541.80L325.66,537.80M338.05,541.80L338.05,537.80M347.66,541.80L347.66,537.80M355.51,541.80L355.51,537.80M362.15,541.80L362.15,537.80M367.90,541.80L367.90,537.80M372.97,541.80L372.97,537.80M407.36,541.80L407.36,537.80M424.83,541.80L424.83,537.80M437.22,541.80L437.22,537.80M446.83,541.80L446.83,537.80M454.68,541.80L454.68,537.80M461.32,541.80L461.32,537.80M467.07,541.80L467.07,537.80M472.14,541.80L472.14,537.80M506.53,541.80L506.53,537.80M524.00,541.80L524.00,537.80M80.00,491.20L87.50,491.20M516.50,491.20L531.50,491.20M80.00,364.60L87.50,364.60M516.50,364.60L531.50,364.60M80.00,238.00L87.50,238.00M516.50,238.00L531.50,238.00M80.00,541.58L84.00,541.58M520.00,541.58L528.00,541.58M80.00,529.31L84.00,529.31M520.00,529.31L528.00,529.31M80.00,519.29L84.00,519.29M520.00,519.29L528.00,519.29M80.00,510.81L84.00,510.81M520.00,510.81L528.00,510.81M80.00,503.47L84.00,503.47M520.00,503.47L528.00,503.47M80.00,496.99L84.00,496.99M520.00,496.99L528.00,496.99M80.00,453.09L84.00,453.09M520.00,453.09L528.00,453.09M80.00,430.80L84.00,430.80M520.00,430.80L528.00,430.80M80.00,414.98L84.00,414.98M520.00,414.98L528.00,414.98M80.00,402.71L84.00,402.71M520.00,402.71L528.00,402.71M80.00,392.69L84.00,392.69M520.00,392.69L528.00,392.69M80.00,384.21L84.00,384.21M520.00,384.21L528.00,384.21M80.00,376.87L84.00,376.87M520.00,376.87L528.00,376.87M80.00,370.39L84.00,370.39M520.00,370.39L528.00,370.39M80.00,326.49L84.00,326.49M520.00,326.49L528.00,326.49M80.00,304.20L84.00,304.20M520.00,304.20L528.00,304.20M80.00,288.38L84.00,288.38M520.00,288.38L528.00,288.38M80.00,276.11L84.00,276.11M520.00,276.11L528.00,276.11M80.00,266.09L84.00,266.09M520.00,266.09L528.00,266.09M80.00,257.61L84.00,257.61M520.00,257.61L528.00,257.61M80.00,250.27L84.00,250.27M520.00,250.27L528.00,250.27M80.00,243.79L84.00,243.79M520.00,243.79L528.00,243.79M80.00,199.89L84.00,199.89M520.00,199.89L528.00,199.89M583.60,199.60L583.60,207.10M643.20,199.60L643.20,207.10M702.80,199.60L702.80,207.10M524.00,541.80L524.00,534.30M583.60,541.80L583.60,534.30M643.20,541.80L643.20,534.30M702.80,541.80L702.80,534.30M553.80,199.60L553.80,203.60M553.80,541.80L553.80,537.80M613.40,199.60L613.40,203.60M613.40,541.80L613.40,537.80M673.00,199.60L673.00,203.60M673.00,541.80L673.00,537.80M715.00,491.20L707.50,491.20M715.00,364.60L707.50,364.60M715.00,238.00L707.50,238.00M715.00,427.90L711.00,427.90M715.00,301.30L711.00,301.30" stroke="#000" stroke-width="1.9" fill="none"/>
<path d="M80,9.1H524V541.8H80Z M80,200H524 M524,199.6H715V541.8H524" stroke="#000" stroke-width="2" fill="none" stroke-linejoin="miter"/>
<text x="70.80" y="206.70" font-family="'Liberation Serif', serif" font-size="17.5" text-anchor="end" font-weight="normal" font-style="normal" >0.0</text>
<text x="70.80" y="143.05" font-family="'Liberation Serif', serif" font-size="17.5" text-anchor="end" font-weight="normal" font-style="normal" >0.5</text>
<text x="70.80" y="79.40" font-family="'Liberation Serif', serif" font-size="17.5" text-anchor="end" font-weight="normal" font-style="normal" >1.0</text>
<text x="70.80" y="15.75" font-family="'Liberation Serif', serif" font-size="17.5" text-anchor="end" font-weight="normal" font-style="normal" >1.5</text>
<text x="70.80" y="242.50" font-family="'Liberation Serif', serif" font-size="17.5" text-anchor="end" font-weight="normal" font-style="normal" >100</text>
<text x="70.80" y="369.10" font-family="'Liberation Serif', serif" font-size="17.5" text-anchor="end" font-weight="normal" font-style="normal" >10</text>
<text x="70.80" y="495.70" font-family="'Liberation Serif', serif" font-size="17.5" text-anchor="end" font-weight="normal" font-style="normal" >1</text>
<text x="79.80" y="565.2" font-family="'Liberation Serif', serif" font-size="17.5" text-anchor="middle">10<tspan font-size="11.5" dy="-7">-3</tspan></text>
<text x="178.97" y="565.2" font-family="'Liberation Serif', serif" font-size="17.5" text-anchor="middle">10<tspan font-size="11.5" dy="-7">-2</tspan></text>
<text x="278.14" y="565.2" font-family="'Liberation Serif', serif" font-size="17.5" text-anchor="middle">10<tspan font-size="11.5" dy="-7">-1</tspan></text>
<text x="377.41" y="565.2" font-family="'Liberation Serif', serif" font-size="17.5" text-anchor="middle">10<tspan font-size="11.5" dy="-7">0</tspan></text>
<text x="476.58" y="565.2" font-family="'Liberation Serif', serif" font-size="17.5" text-anchor="middle">10<tspan font-size="11.5" dy="-7">1</tspan></text>
<text x="524.00" y="565.40" font-family="'Liberation Serif', serif" font-size="17.5" text-anchor="middle" font-weight="normal" font-style="normal" >0.0</text>
<text x="583.60" y="565.40" font-family="'Liberation Serif', serif" font-size="17.5" text-anchor="middle" font-weight="normal" font-style="normal" >0.5</text>
<text x="643.20" y="565.40" font-family="'Liberation Serif', serif" font-size="17.5" text-anchor="middle" font-weight="normal" font-style="normal" >1.0</text>
<text x="702.80" y="565.40" font-family="'Liberation Serif', serif" font-size="17.5" text-anchor="middle" font-weight="normal" font-style="normal" >1.5</text>
<text transform="translate(42.5,104.5) rotate(-90)" font-family="'Liberation Serif', serif" font-size="20.3" text-anchor="middle">Number Distribution</text>
<text transform="translate(38.4,361.1) rotate(-90)" font-family="'Liberation Serif', serif" font-size="19.5" text-anchor="middle">Initial Spin Period (ms)</text>
<text x="237" y="582.3" font-family="'Liberation Serif', serif" font-size="18.4">Ejecta Mass (<tspan font-style="italic">M</tspan><tspan dx="9.5">)</tspan></text>
<text x="619" y="582.2" font-family="'Liberation Serif', serif" font-size="18.4" text-anchor="middle">Number Distribution</text>
<ellipse cx="355.40" cy="583.60" rx="3.22" ry="3.50" fill="none" stroke="#000" stroke-width="1.10"/><circle cx="355.40" cy="583.60" r="0.88" fill="#000"/>
<path d="M95.3,30.60H124.6" stroke="#ee1c1c" stroke-width="1.7"/>
<g font-family="'Liberation Serif', serif" font-weight="bold">
<text x="127.3" y="35.30" font-size="13" font-style="italic">M</text>
<text x="138.8" y="38.20" font-size="8.6">ej,FBOT</text>
<text x="173.80" y="35.30" font-size="13">=</text>
<text x="184.70" y="35.30" font-size="13">0.11</text>
<text x="207.40" y="30.10" font-size="8.8">+0.22</text>
<text x="207.40" y="38.70" font-size="8.8">-0.09</text>
<text x="228.50" y="35.30" font-size="13" font-style="italic">M</text>
</g>
<ellipse cx="242.60" cy="35.85" rx="2.30" ry="2.50" fill="none" stroke="#000" stroke-width="1.40"/><circle cx="242.60" cy="35.85" r="0.62" fill="#000"/>
<path d="M95.3,50.95H124.6" stroke="#4fd07c" stroke-width="1.7"/>
<g font-family="'Liberation Serif', serif" font-weight="bold">
<text x="127.3" y="55.65" font-size="13" font-style="italic">M</text>
<text x="138.8" y="58.55" font-size="8.6">ej,SLSN</text>
<text x="173.10" y="55.65" font-size="13">=</text>
<text x="183.90" y="55.65" font-size="13">2.8</text>
<text x="198.90" y="50.45" font-size="8.8">+4.3</text>
<text x="198.90" y="59.05" font-size="8.8">-1.7</text>
<text x="216.60" y="55.65" font-size="13" font-style="italic">M</text>
</g>
<ellipse cx="230.70" cy="56.20" rx="2.30" ry="2.50" fill="none" stroke="#000" stroke-width="1.40"/><circle cx="230.70" cy="56.20" r="0.62" fill="#000"/>
<path d="M95.3,71.30H124.6" stroke="#1ea5ff" stroke-width="1.7"/>
<g font-family="'Liberation Serif', serif" font-weight="bold">
<text x="127.3" y="76.00" font-size="13" font-style="italic">M</text>
<text x="138.8" y="78.90" font-size="8.6">ej,GRB-SN</text>
<text x="184.00" y="76.00" font-size="13">=</text>
<text x="194.40" y="76.00" font-size="13">4.6</text>
<text x="210.20" y="70.80" font-size="8.8">+2.8</text>
<text x="210.20" y="79.40" font-size="8.8">-2.3</text>
<text x="226.90" y="76.00" font-size="13" font-style="italic">M</text>
</g>
<ellipse cx="241.00" cy="76.55" rx="2.30" ry="2.50" fill="none" stroke="#000" stroke-width="1.40"/><circle cx="241.00" cy="76.55" r="0.62" fill="#000"/>
<path d="M95.3,91.65H124.6" stroke="#9a3cf2" stroke-width="1.7"/>
<g font-family="'Liberation Serif', serif" font-weight="bold">
<text x="127.3" y="96.35" font-size="13" font-style="italic">M</text>
<text x="138.8" y="99.25" font-size="8.6">ej,SN Ic-BL</text>
<text x="185.80" y="96.35" font-size="13">=</text>
<text x="197.10" y="96.35" font-size="13">2.8</text>
<text x="212.50" y="91.15" font-size="8.8">+4.1</text>
<text x="212.50" y="99.75" font-size="8.8">-1.6</text>
<text x="229.30" y="96.35" font-size="13" font-style="italic">M</text>
</g>
<ellipse cx="243.40" cy="96.90" rx="2.30" ry="2.50" fill="none" stroke="#000" stroke-width="1.40"/><circle cx="243.40" cy="96.90" r="0.62" fill="#000"/>
<path d="M545.9,218.30H576.6" stroke="#ee1c1c" stroke-width="1.7"/>
<g font-family="'Liberation Serif', serif" font-weight="bold">
<text x="578.6" y="222.70" font-size="13" font-style="italic">P</text>
<text x="587.4" y="225.70" font-size="8.6">i,FBOT</text>
<text x="618.60" y="222.70" font-size="13">=</text>
<text x="629.00" y="222.70" font-size="13">9.1</text>
<text x="644.50" y="217.50" font-size="8.8">+9.3</text>
<text x="644.50" y="226.30" font-size="8.8">-4.4</text>
<text x="662.20" y="222.70" font-size="13">ms</text>
</g>
<path d="M545.9,239.30H576.6" stroke="#4fd07c" stroke-width="1.7"/>
<g font-family="'Liberation Serif', serif" font-weight="bold">
<text x="578.6" y="243.70" font-size="13" font-style="italic">P</text>
<text x="587.4" y="246.70" font-size="8.6">i,SLSN</text>
<text x="616.60" y="243.70" font-size="13">=</text>
<text x="628.30" y="243.70" font-size="13">2.8</text>
<text x="643.30" y="238.50" font-size="8.8">+2.5</text>
<text x="643.30" y="247.30" font-size="8.8">-0.9</text>
<text x="660.80" y="243.70" font-size="13">ms</text>
</g>
<path d="M545.9,260.30H576.6" stroke="#1ea5ff" stroke-width="1.7"/>
<g font-family="'Liberation Serif', serif" font-weight="bold">
<text x="578.6" y="264.70" font-size="13" font-style="italic">P</text>
<text x="587.4" y="267.70" font-size="8.6">i,GRB-SN</text>
<text x="628.40" y="264.70" font-size="13">=</text>
<text x="640.40" y="264.70" font-size="13">1.20</text>
<text x="661.30" y="259.50" font-size="8.8">+0.46</text>
<text x="661.30" y="268.30" font-size="8.8">-0.30</text>
<text x="682.30" y="264.70" font-size="13">ms</text>
</g>
<path d="M545.9,281.30H576.6" stroke="#9a3cf2" stroke-width="1.7"/>
<g font-family="'Liberation Serif', serif" font-weight="bold">
<text x="578.6" y="285.70" font-size="13" font-style="italic">P</text>
<text x="587.4" y="288.70" font-size="8.6">i,SN Ic-BL</text>
<text x="630.60" y="285.70" font-size="13">=</text>
<text x="641.60" y="285.70" font-size="13">1.9</text>
<text x="656.60" y="280.50" font-size="8.8">+1.8</text>
<text x="656.60" y="289.30" font-size="8.8">-0.8</text>
<text x="674.00" y="285.70" font-size="13">ms</text>
</g>
<circle cx="112.6" cy="456.20" r="4.8" fill="#bf5317" fill-opacity="0.80"/>
<text x="136.4" y="461.20" font-family="'Liberation Serif', serif" font-size="16.5" font-weight="bold">FBOTs</text>
<circle cx="112.6" cy="477.50" r="4.8" fill="#66a56e" fill-opacity="0.80"/>
<text x="136.4" y="482.40" font-family="'Liberation Serif', serif" font-size="16.5" font-weight="bold">SLSNe</text>
<circle cx="112.6" cy="498.80" r="4.8" fill="#48a0ec" fill-opacity="0.80"/>
<text x="136.4" y="503.60" font-family="'Liberation Serif', serif" font-size="16.5" font-weight="bold">GRB-SNe</text>
<circle cx="112.6" cy="520.10" r="4.8" fill="#7e52b2" fill-opacity="0.80"/>
<text x="136.4" y="524.80" font-family="'Liberation Serif', serif" font-size="16.5" font-weight="bold">SNe Ic-BL</text>
<g fill="none" stroke="#ee1111" stroke-width="2.1">
<path d="M408.60,213.10 L410.60,217.45 L415.35,218.01 L411.83,221.25 L412.77,225.94 L408.60,223.60 L404.43,225.94 L405.37,221.25 L401.85,218.01 L406.60,217.45 Z" stroke-width="2.4" stroke-miterlimit="1.6"/>
<path d="M401.85,237.20 L412.65,230.60 L412.65,243.80 Z"/>
<path d="M416.80,254.40 L405.00,248.00 L405.00,260.80 Z"/>
<path d="M403.80,266.55 h9.80 v9.80 h-9.80 Z"/>
<path d="M408.50,282.70 L415.06,287.47 L412.56,295.18 L404.44,295.18 L401.94,287.47 Z"/>
</g>
<text x="426.8" y="224.50" font-family="'Liberation Serif', serif" font-size="12.8" font-weight="bold">DES16Ebir</text>
<text x="426.8" y="241.50" font-family="'Liberation Serif', serif" font-size="12.8" font-weight="bold">PS1-12bb</text>
<text x="426.8" y="258.50" font-family="'Liberation Serif', serif" font-size="12.8" font-weight="bold">SNLS04D4ec</text>
<text x="426.8" y="275.50" font-family="'Liberation Serif', serif" font-size="12.8" font-weight="bold">SNLS05D2hk</text>
<text x="426.8" y="292.50" font-family="'Liberation Serif', serif" font-size="12.8" font-weight="bold">SNLS06D1hc</text>
</svg></div></body></html>
